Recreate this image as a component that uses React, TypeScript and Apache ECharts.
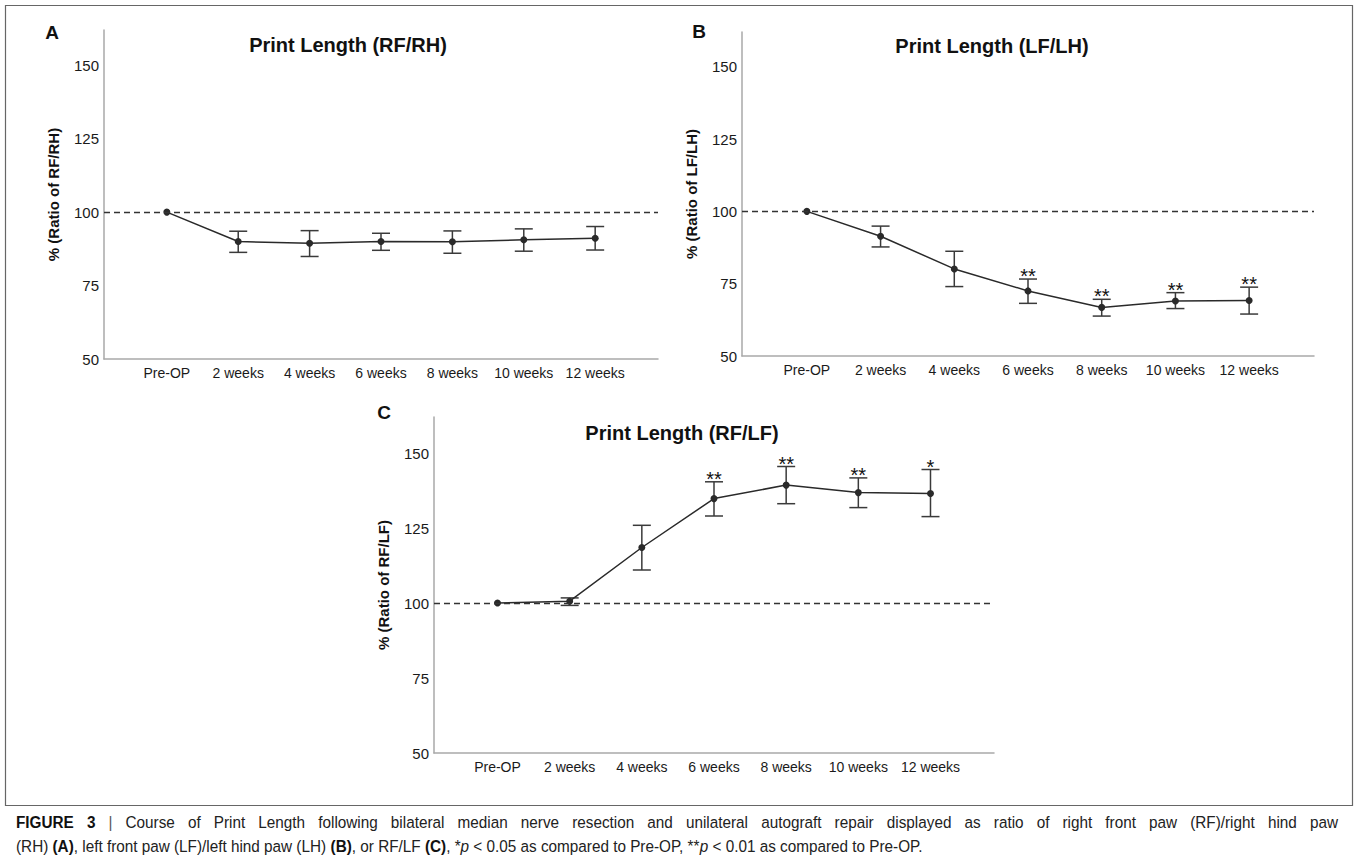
import React, { useEffect, useRef } from "react";
import * as echarts from "echarts";

const categories = ["Pre-OP", "2 weeks", "4 weeks", "6 weeks", "8 weeks", "10 weeks", "12 weeks"];
const yTicks = [50, 75, 100, 125, 150];
const xTicks = [0, 1, 2, 3, 4, 5, 6];

const meanA = [100, 90.0, 89.4, 90.0, 89.9, 90.6, 91.1];
const lowA = [100, 86.3, 84.9, 87.0, 86.0, 86.7, 87.1];
const highA = [100, 93.5, 93.7, 92.8, 93.6, 94.3, 95.1];
const sigA = ["", "", "", "", "", "", ""];

const meanB = [100, 91.4, 80.1, 72.5, 66.8, 69.0, 69.2];
const lowB = [100, 87.7, 74.0, 68.2, 63.8, 66.4, 64.5];
const highB = [100, 94.9, 86.2, 76.6, 69.6, 71.9, 73.8];
const sigB = ["", "", "", "**", "**", "**", "**"];

const meanC = [100, 100.6, 118.5, 134.8, 139.3, 136.8, 136.5];
const lowC = [100, 99.2, 111.0, 129.0, 133.1, 131.8, 128.8];
const highC = [100, 101.7, 125.9, 140.4, 145.5, 141.7, 144.5];
const sigC = ["", "", "", "**", "**", "**", "*"];

const titles = ["Print Length (RF/RH)", "Print Length (LF/LH)", "Print Length (RF/LF)"];
const yNames = ["% (Ratio of RF/RH)", "% (Ratio of LF/LH)", "% (Ratio of RF/LF)"];
const letters = ["A", "B", "C"];

const captionLabel = "FIGURE 3";
const captionLine1 =
  "Course of Print Length following bilateral median nerve resection and unilateral autograft repair displayed as ratio of right front paw (RF)/right hind paw";
const captionLine2 =
  "(RH) {b|(A)}, left front paw (LF)/left hind paw (LH) {b|(B)}, or RF/LF {b|(C)}, *{i|p} < 0.05 as compared to Pre-OP, **{i|p} < 0.01 as compared to Pre-OP.";

const FONT = "'Liberation Sans', Arial, Helvetica, sans-serif";

const App: React.FC = () => {
  const ref = useRef<HTMLDivElement>(null);

  useEffect(() => {
    if (!ref.current) return;
    const chart = echarts.init(ref.current, undefined, { renderer: "svg" });

    const panels = [
      { mean: meanA, low: lowA, high: highA, sig: sigA },
      { mean: meanB, low: lowB, high: highB, sig: sigB },
      { mean: meanC, low: lowC, high: highC, sig: sigC },
    ];

    const grids = [
      { left: 104, top: 30, width: 554, height: 329 },
      { left: 742, top: 32, width: 572, height: 324 },
      { left: 434, top: 417, width: 560, height: 336 },
    ];

    const axisColor = "#a9a9a9";
    const dark = "#2a2a2a";

    const xAxis = grids.map((_, i) => ({
      type: "value",
      gridIndex: i,
      min: -0.88,
      max: 6.88,
      axisLine: { show: true, onZero: false, lineStyle: { color: axisColor, width: 1.5 } },
      axisTick: { show: false },
      splitLine: { show: false },
      axisLabel: {
        customValues: xTicks,
        formatter: (v: number) => categories[Math.round(v)] ?? "",
        color: "#1a1a1a",
        fontSize: 14,
        fontFamily: FONT,
        margin: 7,
      },
    }));

    const yAxis = grids.map((_, i) => ({
      type: "value",
      gridIndex: i,
      min: 50,
      max: 162,
      interval: 25,
      axisLine: { show: true, onZero: false, lineStyle: { color: axisColor, width: 1.5 } },
      axisTick: { show: false },
      splitLine: { show: false },
      axisLabel: {
        customValues: yTicks,
        color: "#1a1a1a",
        fontSize: 15,
        fontFamily: FONT,
        margin: 5,
      },
      name: yNames[i],
      nameLocation: "middle",
      nameGap: 43,
      nameTextStyle: { fontWeight: "bold", fontSize: 15, color: "#111", fontFamily: FONT },
    }));

    const series: any[] = [];
    panels.forEach((p, i) => {
      series.push({
        type: "line",
        xAxisIndex: i,
        yAxisIndex: i,
        data: p.mean.map((v, k) => [k, v]),
        symbol: "circle",
        symbolSize: 7,
        lineStyle: { color: dark, width: 1.5 },
        itemStyle: { color: dark },
        z: 4,
        markLine: {
          silent: true,
          symbol: "none",
          label: { show: false },
          lineStyle: { type: [6, 4], color: "#333", width: 1.3 },
          data: [{ yAxis: 100 }],
        },
      });
      series.push({
        type: "custom",
        xAxisIndex: i,
        yAxisIndex: i,
        z: 3,
        data: p.mean.map((_, k) => [k, p.low[k], p.high[k]]),
        renderItem: (params: any, api: any) => {
          const x = api.value(0);
          const lo = api.coord([x, api.value(1)]);
          const hi = api.coord([x, api.value(2)]);
          if (Math.abs(hi[1] - lo[1]) < 0.5) return null;
          const hw = 9;
          const st = { stroke: "#3a3a3a", lineWidth: 1.5 };
          return {
            type: "group",
            children: [
              { type: "line", shape: { x1: lo[0], y1: lo[1], x2: hi[0], y2: hi[1] }, style: st },
              { type: "line", shape: { x1: hi[0] - hw, y1: hi[1], x2: hi[0] + hw, y2: hi[1] }, style: st },
              { type: "line", shape: { x1: lo[0] - hw, y1: lo[1], x2: lo[0] + hw, y2: lo[1] }, style: st },
            ],
          };
        },
      });
      series.push({
        type: "custom",
        xAxisIndex: i,
        yAxisIndex: i,
        z: 5,
        data: p.mean.map((_, k) => [k, p.high[k]]),
        renderItem: (params: any, api: any) => {
          const s = p.sig[params.dataIndex];
          if (!s) return null;
          const pt = api.coord([api.value(0), api.value(1)]);
          return {
            type: "text",
            x: pt[0],
            y: pt[1] - 3,
            style: {
              text: s,
              fill: "#111",
              font: `20px ${FONT}`,
              align: "center",
              verticalAlign: "middle",
            },
          };
        },
      });
    });

    const titlePos = [
      [348, 45],
      [992, 46],
      [682, 433],
    ];
    const letterPos = [
      [52, 32],
      [699, 31],
      [384, 412],
    ];

    const graphic: any[] = [
      {
        type: "rect",
        shape: { x: 5.5, y: 5.5, width: 1347, height: 800 },
        style: { fill: "none", stroke: "#666", lineWidth: 1.2 },
        silent: true,
      },
    ];
    titles.forEach((t, i) => {
      graphic.push({
        type: "text",
        x: titlePos[i][0],
        y: titlePos[i][1],
        style: { text: t, font: `bold 20px ${FONT}`, fill: "#111", align: "center", verticalAlign: "middle" },
      });
      graphic.push({
        type: "text",
        x: letterPos[i][0],
        y: letterPos[i][1],
        style: { text: letters[i], font: `bold 19px ${FONT}`, fill: "#111", align: "center", verticalAlign: "middle" },
      });
    });

    // Caption: condensed look via horizontal scale; first line justified, second left aligned
    const capSize = 17;
    const sx = 0.9;
    const normalFont = `${capSize}px ${FONT}`;
    const boldFont = `bold ${capSize}px ${FONT}`;
    const canvas = document.createElement("canvas");
    const ctx = canvas.getContext("2d");
    const measure = (t: string, f: string) => {
      if (!ctx) return t.length * capSize * 0.5;
      ctx.font = f;
      return ctx.measureText(t).width;
    };
    const tokens: { t: string; f: string; fill: string }[] = [];
    captionLabel.split(" ").forEach((w) => tokens.push({ t: w, f: boldFont, fill: "#111" }));
    tokens.push({ t: "|", f: normalFont, fill: "#555" });
    captionLine1.split(" ").forEach((w) => tokens.push({ t: w, f: normalFont, fill: "#222" }));
    const x0 = 16;
    const x1 = 1338;
    const widths = tokens.map((tk) => measure(tk.t, tk.f) * sx);
    const total = widths.reduce((a, b) => a + b, 0);
    const gap = (x1 - x0 - total) / (tokens.length - 1);
    let cx = x0;
    tokens.forEach((tk, k) => {
      graphic.push({
        type: "text",
        x: cx,
        y: 822,
        scaleX: sx,
        style: { text: tk.t, font: tk.f, fill: tk.fill, align: "left", verticalAlign: "middle" },
      });
      cx += widths[k] + gap;
    });
    graphic.push({
      type: "text",
      x: x0,
      y: 846,
      scaleX: sx,
      style: {
        text: captionLine2,
        font: normalFont,
        fill: "#222",
        verticalAlign: "middle",
        rich: {
          b: { fontWeight: "bold", fontSize: capSize, fontFamily: FONT, fill: "#111" },
          i: { fontStyle: "italic", fontSize: capSize, fontFamily: FONT, fill: "#222" },
        },
      },
    });

    chart.setOption({
      animation: false,
      backgroundColor: "#ffffff",
      textStyle: { fontFamily: FONT },
      grid: grids,
      xAxis,
      yAxis,
      series,
      graphic,
    });

    return () => {
      chart.dispose();
    };
  }, []);

  return (
    <div
      ref={ref}
      style={{ position: "fixed", left: 0, top: 0, width: 1357, height: 866, background: "#fff" }}
    />
  );
};

export default App;
